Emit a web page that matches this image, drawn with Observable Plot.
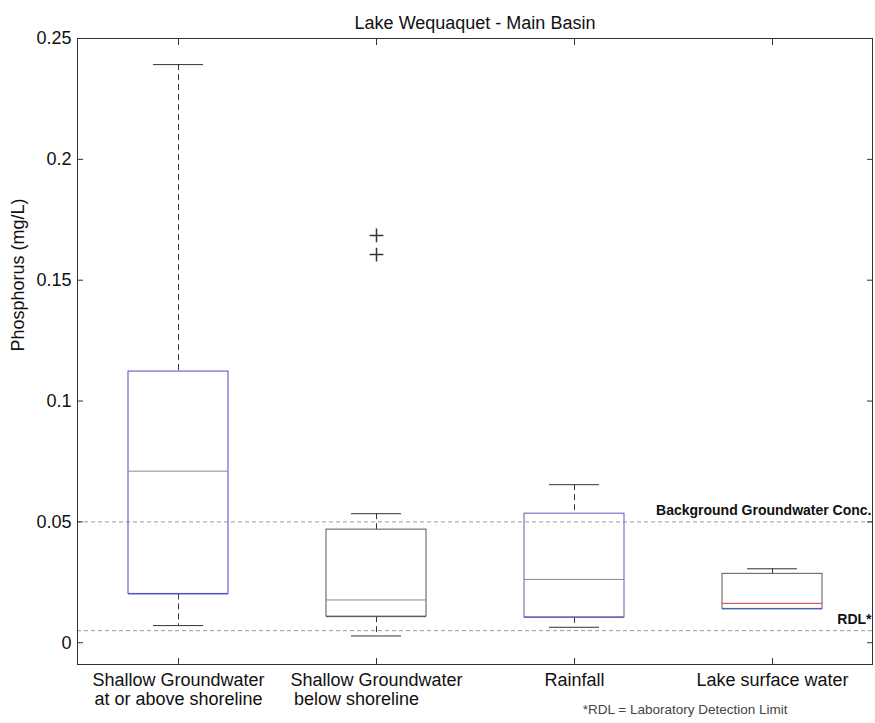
<!DOCTYPE html>
<html><head><meta charset="utf-8">
<script src="https://cdn.jsdelivr.net/npm/d3@7"></script>
<script src="https://cdn.jsdelivr.net/npm/@observablehq/plot@0.6"></script>
<style>body{margin:0;background:#fff}</style>
</head><body><div id="chart"></div>
<script>
const categories = ["SG above", "SG below", "Rainfall", "Lake"];
const tickLabels = [
  "Shallow Groundwater\nat or above shoreline",
  "Shallow Groundwater\n\u00a0below shoreline\u00a0\u00a0\u00a0\u00a0\u00a0\u00a0\u00a0\u00a0\u00a0",
  "Rainfall",
  "Lake surface water"
];
const q1 = [0.0202, 0.0108, 0.0105, 0.0140];
const median = [0.0710, 0.0177, 0.0262, 0.0163];
const q3 = [0.1122, 0.0468, 0.0534, 0.0285];
const whiskerLow = [0.0071, 0.0028, 0.0064, 0.0140];
const whiskerHigh = [0.2392, 0.0534, 0.0654, 0.0306];
const outlierCategory = ["SG below", "SG below"];
const outlierValue = [0.1685, 0.1606];
const refValues = [0.05, 0.005];
const refLabels = ["Background Groundwater Conc.", "RDL*"];
const yTicks = [0, 0.05, 0.1, 0.15, 0.2, 0.25];
const title = "Lake Wequaquet - Main Basin";
const yLabel = "Phosphorus (mg/L)";
const footnote = "*RDL = Laboratory Detection Limit";

// layout & styles
const W = 875, H = 723, mT = 38, mB = 59, mL = 77, mR = 3, tick = 6;
const boxStroke = ["#4b4bc8", "#555555", "#5a5ab4", "#5a5a5a"];
const medianStroke = ["#8a8a8a", "#8a8a8a", "#8a8a8a", "#d83a3a"];
const q1Stroke = ["#4b4bc8", "#555555", "#5a5ab4", "#3f5fc0"];

const boxes = categories.map((c, i) => ({cat: c, q1: q1[i], med: median[i], q3: q3[i], lo: whiskerLow[i], hi: whiskerHigh[i], i}));
const noText = () => "";

const chart = Plot.plot({
  width: W, height: H,
  marginTop: mT, marginBottom: mB, marginLeft: mL, marginRight: mR,
  style: {fontFamily: "'Liberation Sans', Arial, sans-serif", fontSize: "18px", color: "#111", background: "#fff"},
  x: {type: "band", domain: categories, padding: 0, label: null},
  y: {domain: [-0.009, 0.25], label: null},
  color: {type: "identity"},
  marks: [
    Plot.ruleY(refValues, {stroke: "#9a9a9a", strokeDasharray: "4,3"}),
    Plot.text(refLabels, {y: refValues, text: Plot.identity, frameAnchor: "right", textAnchor: "end", dx: -1, dy: -11, fontWeight: "bold", fontSize: 14, fill: "#111"}),
    Plot.ruleX(boxes, {x: "cat", y1: "hi", y2: "q3", stroke: "#333", strokeDasharray: "6,4"}),
    Plot.ruleX(boxes, {x: "cat", y1: "q1", y2: "lo", stroke: "#333", strokeDasharray: "6,4"}),
    Plot.tickY(boxes, {x: "cat", y: "hi", insetLeft: 74, insetRight: 74, stroke: "#333"}),
    Plot.tickY(boxes.filter(d => d.lo < d.q1), {x: "cat", y: "lo", insetLeft: 74, insetRight: 74, stroke: "#333"}),
    Plot.barY(boxes, {x: "cat", y1: "q1", y2: "q3", insetLeft: 49, insetRight: 49, fill: "none", stroke: d => boxStroke[d.i]}),
    Plot.tickY(boxes, {x: "cat", y: "med", insetLeft: 49, insetRight: 49, stroke: d => medianStroke[d.i]}),
    Plot.tickY(boxes, {x: "cat", y: "q1", insetLeft: 49, insetRight: 49, stroke: d => q1Stroke[d.i]}),
    Plot.dot(outlierValue, {x: outlierCategory, y: outlierValue, symbol: "plus", r: 4.5, stroke: "#333"}),
    Plot.frame({stroke: "#333"}),
    // inward ticks on all four sides (outward ticks shifted inside)
    Plot.axisY(yTicks, {anchor: "left", tickSize: tick, dx: tick, tickFormat: noText, label: null, stroke: "#333"}),
    Plot.axisY(yTicks, {anchor: "right", tickSize: tick, dx: -tick, tickFormat: noText, label: null, stroke: "#333"}),
    Plot.axisX(categories, {anchor: "bottom", tickSize: tick, dy: -tick, tickFormat: noText, label: null, stroke: "#333"}),
    Plot.axisX(categories, {anchor: "top", tickSize: tick, dy: tick, tickFormat: noText, label: null, stroke: "#333"}),
    Plot.axisY(yTicks, {anchor: "left", tickSize: 0, tickPadding: 6, tickFormat: d => String(d), label: null}),
    Plot.axisX(categories, {anchor: "bottom", tickSize: 0, tickPadding: 7, tickFormat: d => tickLabels[categories.indexOf(d)], label: null, lineHeight: 1.1}),
    Plot.text([title], {frameAnchor: "top", dy: -22, fontSize: 18, fill: "#111"}),
    Plot.text([yLabel], {frameAnchor: "left", dx: -59, rotate: -90, fontSize: 18, fill: "#111"}),
    Plot.text([footnote], {frameAnchor: "bottom-right", textAnchor: "end", dx: -85, dy: 49, fontSize: 13.5, fill: "#444"})
  ]
});
document.getElementById("chart").appendChild(chart);
</script>
</body></html>
